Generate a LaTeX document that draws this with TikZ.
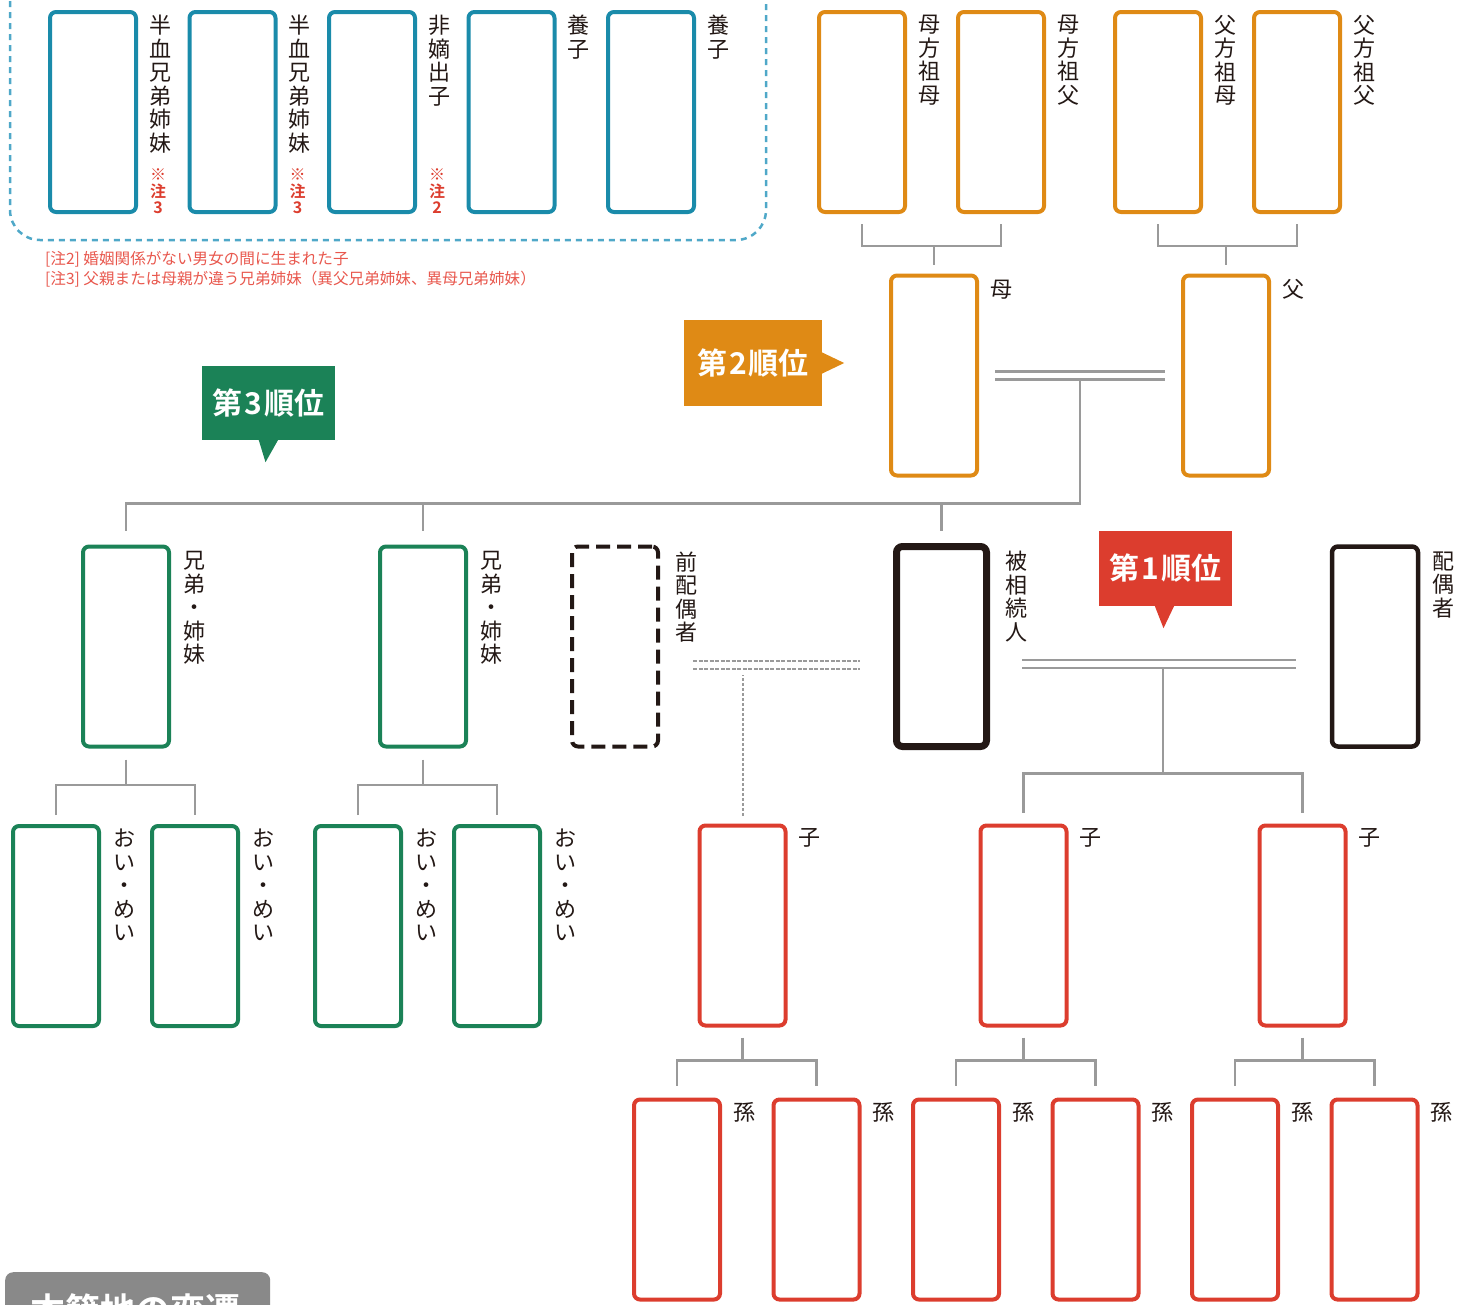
\documentclass[tikz,border=0pt]{standalone}
\usepackage{fontspec}
\setmainfont{Noto Sans CJK JP}[BoldFont={Noto Sans CJK JP Bold}]
\usetikzlibrary{positioning,calc}

\definecolor{teal1}{HTML}{1A8BAA}
\definecolor{tealdash}{HTML}{4FA8C8}
\definecolor{orange1}{HTML}{DF8A15}
\definecolor{green1}{HTML}{1B8257}
\definecolor{red1}{HTML}{DC3D2E}
\definecolor{notered}{HTML}{E8574D}
\definecolor{linegray}{HTML}{9A9A9A}
\definecolor{ink}{HTML}{231815}
\definecolor{tabgray}{HTML}{898989}

\begin{document}
\begin{tikzpicture}[
    x=1pt, y=-1pt,
    person/.style={draw, rounded corners=6pt, line width=4pt, minimum width=86pt, minimum height=200pt, inner sep=0pt},
    half/.style={person, draw=teal1},
    anc/.style={person, draw=orange1},
    sib/.style={person, draw=green1},
    desc/.style={person, draw=red1},
    tate/.style={inner sep=0pt, align=center, text=ink, font=\fontsize{22}{23.5}\selectfont},
    chu/.style={inner sep=0pt, align=center, text=red1, font=\bfseries\fontsize{16}{16.5}\selectfont},
    note/.style={anchor=west, inner sep=0pt, text=notered, font=\fontsize{15.6}{19}\selectfont},
    rank/.style={inner sep=0pt, text=white, font=\bfseries\fontsize{30}{32}\selectfont},
    link/.style={draw=linegray, line width=2.5pt},
    couple/.style={link, double=white, double distance=5.5pt}
]
\useasboundingbox (0,0) rectangle (1470,1304);

% Half blood, illegitimate and adopted children
\draw[tealdash, line width=2.5pt, dash pattern=on 6pt off 5pt, rounded corners=30pt] (10,-40) rectangle (766,240);
\node[half] (hb1) at (93,112) {};
\node[half, right=49.5pt of hb1] (hb2) {};
\node[half, right=49.5pt of hb2] (hic) {};
\node[half, right=49.5pt of hic] (ad1) {};
\node[half, right=49.5pt of ad1] (ad2) {};
\node[tate, below right=5pt and 11pt of hb1.north east] (hb1-l) {半\\血\\兄\\弟\\姉\\妹};
\node[tate, below right=5pt and 11pt of hb2.north east] (hb2-l) {半\\血\\兄\\弟\\姉\\妹};
\node[tate, below right=5pt and 11pt of hic.north east] (hic-l) {非\\嫡\\出\\子};
\node[tate, below right=5pt and 11pt of ad1.north east] (ad1-l) {養\\子};
\node[tate, below right=5pt and 11pt of ad2.north east] (ad2-l) {養\\子};
\node[chu, above right=0pt and 12pt of hb1.south east] (hb1-n) {※\\注\\3};
\node[chu, above right=0pt and 12pt of hb2.south east] (hb2-n) {※\\注\\3};
\node[chu, above right=0pt and 12pt of hic.south east] (hic-n) {※\\注\\2};

% Notes
\node[note] (note2) at (45,259) {[注2] 婚姻関係がない男女の間に生まれた子};
\node[note, below=3.5pt of note2.south west, anchor=north west] (note3) {[注3] 父親または母親が違う兄弟姉妹（異父兄弟姉妹、異母兄弟姉妹）};

% Grandparents and parents
\node[anc] (mgm) at (862,112) {};
\node[anc, right=49pt of mgm] (mgf) {};
\node[anc, right=67pt of mgf] (pgm) {};
\node[anc, right=49pt of pgm] (pgf) {};
\node[tate, below right=5pt and 11pt of mgm.north east] (mgm-l) {母\\方\\祖\\母};
\node[tate, below right=5pt and 11pt of mgf.north east] (mgf-l) {母\\方\\祖\\父};
\node[tate, below right=5pt and 11pt of pgm.north east] (pgm-l) {父\\方\\祖\\母};
\node[tate, below right=5pt and 11pt of pgf.north east] (pgf-l) {父\\方\\祖\\父};
\node[anc] (mom) at (934,375.5) {};
\node[anc] (dad) at (1226,375.5) {};
\node[tate, below right=6pt and 11pt of mom.north east] (mom-l) {母};
\node[tate, below right=6pt and 11pt of dad.north east] (dad-l) {父};

\draw[link] ($(mgm.south)+(0,10)$) |- ($(mgf.south)+(0,32)$) -- ($(mgf.south)+(0,10)$);
\draw[link] (mom.north) ++(0,-9) -- ++(0,-18);
\draw[link] ($(pgm.south)+(0,10)$) |- ($(pgf.south)+(0,32)$) -- ($(pgf.south)+(0,10)$);
\draw[link] (dad.north) ++(0,-9) -- ++(0,-18);
\draw[couple] ($(mom.east)+(16,0)$) -- ($(dad.west)+(-16,0)$);
\coordinate (pmar) at ($(mom.east)!0.5!(dad.west)$);

% Rank tags
\node[rank, fill=orange1, minimum width=138pt, minimum height=86pt] (rank2) at (753,363) {第\hspace{2pt}2\hspace{2pt}順位};
\fill[orange1] ($(rank2.east)+(-1,-11)$) -- ($(rank2.east)+(22,0)$) -- ($(rank2.east)+(-1,11)$) -- cycle;
\node[rank, fill=green1, minimum width=133pt, minimum height=74pt] (rank3) at (268.5,403) {第\hspace{2pt}3\hspace{2pt}順位};
\fill[green1] ($(rank3.south)+(-10,-1)$) -- ($(rank3.south)+(-3,22)$) -- ($(rank3.south)+(10,-1)$) -- cycle;
\node[rank, fill=red1, minimum width=133pt, minimum height=75pt] (rank1) at (1165.5,568.5) {第\hspace{2pt}1\hspace{2pt}順位};
\fill[red1] ($(rank1.south)+(-11,-1)$) -- ($(rank1.south)+(-2,22)$) -- ($(rank1.south)+(9,-1)$) -- cycle;

% Siblings, deceased and spouses
\node[sib] (sib1) at (126,646.5) {};
\node[sib] (sib2) at (423,646.5) {};
\node[person, draw=ink, dash pattern=on 14pt off 7pt] (exsp) at (615,646.5) {};
\node[person, draw=ink, line width=7pt, minimum width=90pt] (dec) at (941.5,646.5) {};
\node[person, draw=ink, line width=4.5pt] (sp) at (1375,646.5) {};
\node[tate, below right=7pt and 12pt of sib1.north east] (sib1-l) {兄\\弟\\・\\姉\\妹};
\node[tate, below right=7pt and 12pt of sib2.north east] (sib2-l) {兄\\弟\\・\\姉\\妹};
\node[tate, below right=7pt and 15pt of exsp.north east] (exsp-l) {前\\配\\偶\\者};
\node[tate, below right=8pt and 15pt of dec.north east] (dec-l) {被\\相\\続\\人};
\node[tate, below right=7pt and 12pt of sp.north east] (sp-l) {配\\偶\\者};

\coordinate (sbar) at ($(pmar)+(0,128)$);
\draw[link] ($(pmar)+(0,5)$) -- (sbar) -- (sbar -| sib1) -- ++(0,27);
\draw[link] (sbar -| sib2) -- ++(0,27);
\draw[link] (sbar -| dec) -- ++(0,27);

% Nephews and nieces
\node[sib] (ne1) at (56,926) {};
\node[sib, right=49pt of ne1] (ne2) {};
\node[sib] (ne3) at (358,926) {};
\node[sib, right=49pt of ne3] (ne4) {};
\node[tate, below right=5pt and 12pt of ne1.north east] (ne1-l) {お\\い\\・\\め\\い};
\node[tate, below right=5pt and 12pt of ne2.north east] (ne2-l) {お\\い\\・\\め\\い};
\node[tate, below right=5pt and 12pt of ne3.north east] (ne3-l) {お\\い\\・\\め\\い};
\node[tate, below right=5pt and 12pt of ne4.north east] (ne4-l) {お\\い\\・\\め\\い};
\draw[link] (sib1.south) ++(0,11) -- ++(0,25);
\draw[link] ($(ne1.north)+(0,-9)$) -- ++(0,-30) -| ($(ne2.north)+(0,-9)$);
\draw[link] (sib2.south) ++(0,11) -- ++(0,25);
\draw[link] ($(ne3.north)+(0,-9)$) -- ++(0,-30) -| ($(ne4.north)+(0,-9)$);

% Children
\node[desc] (ko1) at (742.5,925.5) {};
\node[desc] (ko2) at (1023.5,925.5) {};
\node[desc] (ko3) at (1302.5,925.5) {};
\node[tate, below right=5pt and 11pt of ko1.north east] (ko1-l) {子};
\node[tate, below right=5pt and 11pt of ko2.north east] (ko2-l) {子};
\node[tate, below right=5pt and 11pt of ko3.north east] (ko3-l) {子};

\coordinate (exmar) at ($(exsp.east)!0.5!(dec.west)+(0,18.5)$);
\draw[couple, dash pattern=on 4pt off 1.5pt] ($(exsp.east)+(33,18.5)$) -- ($(dec.west)+(-33,18.5)$);
\draw[link, line width=2pt, dash pattern=on 3pt off 2pt] ($(ko1.north)+(0,-8)$) -- ($(ko1.north |- exmar)+(0,10)$);
\coordinate (spmar) at ($(dec.east)!0.5!(sp.west)+(0,17.5)$);
\draw[couple] ($(dec.east)+(32,17.5)$) -- ($(sp.west)+(-34,17.5)$);
\coordinate (kbar) at ($(ko2.north)!0.5!(ko3.north)+(0,-50)$);
\draw[link] ($(kbar |- spmar)+(0,5)$) -- (kbar);
\draw[link] ($(ko2.north)+(0,-11)$) |- (kbar) -| ($(ko3.north)+(0,-11)$);

% Grandchildren
\node[desc] (gc1) at (677,1199.5) {};
\node[desc, right=49.5pt of gc1] (gc2) {};
\node[desc, right=49.5pt of gc2] (gc3) {};
\node[desc, right=49.5pt of gc3] (gc4) {};
\node[desc, right=49.5pt of gc4] (gc5) {};
\node[desc, right=49.5pt of gc5] (gc6) {};
\node[tate, below right=5pt and 11pt of gc1.north east] (gc1-l) {孫};
\node[tate, below right=5pt and 11pt of gc2.north east] (gc2-l) {孫};
\node[tate, below right=5pt and 11pt of gc3.north east] (gc3-l) {孫};
\node[tate, below right=5pt and 11pt of gc4.north east] (gc4-l) {孫};
\node[tate, below right=5pt and 11pt of gc5.north east] (gc5-l) {孫};
\node[tate, below right=5pt and 11pt of gc6.north east] (gc6-l) {孫};
\draw[link] (ko1.south) ++(0,10) -- ++(0,22);
\draw[link] ($(gc1.north)+(0,-12)$) -- ++(0,-25) -| ($(gc2.north)+(0,-12)$);
\draw[link] (ko2.south) ++(0,10) -- ++(0,22);
\draw[link] ($(gc3.north)+(0,-12)$) -- ++(0,-25) -| ($(gc4.north)+(0,-12)$);
\draw[link] (ko3.south) ++(0,10) -- ++(0,22);
\draw[link] ($(gc5.north)+(0,-12)$) -- ++(0,-25) -| ($(gc6.north)+(0,-12)$);

% Next section tab
\node[fill=tabgray, rounded corners=8pt, minimum width=265pt, minimum height=80pt, anchor=north west, inner sep=0pt] (tab) at (5,1272) {};
\node[anchor=base west, inner sep=0pt, text=white, font=\bfseries\fontsize{35}{40}\selectfont] (tab-l) at (30,1323) {本籍地の変遷};

\end{tikzpicture}
\end{document}
